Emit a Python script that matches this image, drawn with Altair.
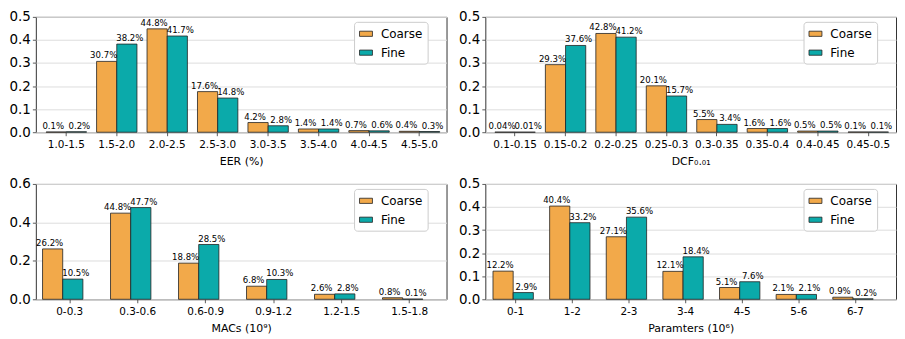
import altair as alt
import pandas as pd

groups = ["Coarse", "Fine"]
colors = ["#F2A94A", "#0BAAAA"]

eer_cats = ["1.0-1.5", "1.5-2.0", "2.0-2.5", "2.5-3.0", "3.0-3.5", "3.5-4.0", "4.0-4.5", "4.5-5.0"]
eer_coarse = [0.1, 30.7, 44.8, 17.6, 4.2, 1.4, 0.7, 0.4]
eer_fine = [0.2, 38.2, 41.7, 14.8, 2.8, 1.4, 0.6, 0.3]

dcf_cats = ["0.1-0.15", "0.15-0.2", "0.2-0.25", "0.25-0.3", "0.3-0.35", "0.35-0.4", "0.4-0.45", "0.45-0.5"]
dcf_coarse = [0.04, 29.3, 42.8, 20.1, 5.5, 1.6, 0.5, 0.1]
dcf_fine = [0.01, 37.6, 41.2, 15.7, 3.4, 1.6, 0.5, 0.1]

mac_cats = ["0-0.3", "0.3-0.6", "0.6-0.9", "0.9-1.2", "1.2-1.5", "1.5-1.8"]
mac_coarse = [26.2, 44.8, 18.8, 6.8, 2.6, 0.8]
mac_fine = [10.5, 47.7, 28.5, 10.3, 2.8, 0.1]

par_cats = ["0-1", "1-2", "2-3", "3-4", "4-5", "5-6", "6-7"]
par_coarse = [12.2, 40.4, 27.1, 12.1, 5.1, 2.1, 0.9]
par_fine = [2.9, 33.2, 35.6, 18.4, 7.6, 2.1, 0.2]

W, H = 413, 116
FONT = "DejaVu Sans"


def panel(cats, coarse, fine, title, ymax, tickvals, pad_outer, align):
    rows = []
    for c, a, b in zip(cats, coarse, fine):
        rows.append({"cat": c, "group": "Coarse", "pct": a})
        rows.append({"cat": c, "group": "Fine", "pct": b})
    df = pd.DataFrame(rows)
    df["value"] = df["pct"] / 100
    df["label"] = df["pct"].map(lambda v: f"{v}%")

    base = alt.Chart(df).encode(
        x=alt.X(
            "cat:N",
            sort=cats,
            scale=alt.Scale(paddingInner=0.2, paddingOuter=pad_outer, align=align),
            axis=alt.Axis(title=title, labelAngle=0, grid=False, labelFontSize=10.5,
                          titleFontSize=11, titlePadding=6, labelPadding=3.5),
        ),
        xOffset=alt.XOffset("group:N", sort=groups,
                            scale=alt.Scale(domain=groups, paddingInner=0, paddingOuter=0)),
        y=alt.Y(
            "value:Q",
            scale=alt.Scale(domain=[0, ymax], nice=False, zero=True),
            axis=alt.Axis(title=None, values=tickvals, format=".1f", grid=True,
                          labelFontSize=13.5, labelPadding=2),
        ),
    )
    bars = base.mark_bar(stroke="#222222", strokeWidth=0.8).encode(
        color=alt.Color(
            "group:N",
            scale=alt.Scale(domain=groups, range=colors),
            legend=alt.Legend(
                title=None,
                orient="none",
                legendX=W - 9 - 84,
                legendY=5,
                symbolType="M-1,-0.4H1V0.4H-1Z",
                symbolSize=169,
                symbolStrokeColor="#222222",
                symbolStrokeWidth=0.8,
                symbolOpacity=1,
                labelFontSize=12,
                labelFont=FONT,
                labelColor="#000000",
                labelOffset=8,
                rowPadding=6,
                padding=5,
                strokeColor="#cccccc",
                fillColor="#ffffff",
                cornerRadius=3,
            ),
        )
    )
    t1 = base.mark_text(baseline="bottom", dy=-1, dx=-3, fontSize=8.6, font=FONT, color="#000000").encode(
        text="label:N"
    ).transform_filter(alt.datum.group == "Coarse")
    t2 = base.mark_text(baseline="bottom", dy=-1, dx=3, fontSize=8.6, font=FONT, color="#000000").encode(
        text="label:N"
    ).transform_filter(alt.datum.group == "Fine")
    return alt.layer(bars, t1, t2).properties(width=W, height=H)


p1 = panel(eer_cats, eer_coarse, eer_fine, "EER (%)", 0.5, [0, 0.1, 0.2, 0.3, 0.4, 0.5], 0.17, 0.6)
p2 = panel(dcf_cats, dcf_coarse, dcf_fine, "DCF₀.₀₁", 0.5, [0, 0.1, 0.2, 0.3, 0.4, 0.5], 0.17, 0.56)
p3 = panel(mac_cats, mac_coarse, mac_fine, "MACs (10⁹)", 0.6, [0, 0.2, 0.4, 0.6], 0.12, 0.41)
p4 = panel(par_cats, par_coarse, par_fine, "Paramters (10⁶)", 0.5, [0, 0.1, 0.2, 0.3, 0.4, 0.5], 0.226, 0.3)

top = alt.hconcat(p1, p2, spacing=10).resolve_legend(color="independent").resolve_scale(color="independent")
bot = alt.hconcat(p3, p4, spacing=10).resolve_legend(color="independent").resolve_scale(color="independent")

chart = (
    alt.vconcat(top, bot, spacing=9)
    .resolve_legend(color="independent")
    .resolve_scale(color="independent")
    .properties(padding=0)
    .configure(font=FONT)
    .configure_view(stroke="#333333", strokeWidth=1)
    .configure_axis(
        domain=False,
        tickColor="#333333",
        tickSize=3.5,
        tickWidth=0.8,
        labelColor="#000000",
        titleColor="#000000",
        titleFontWeight="normal",
        labelFont=FONT,
        titleFont=FONT,
        gridColor="#dddddd",
        gridWidth=1,
    )
)

chart.save("out.html", embed_options={"renderer": "svg", "actions": False})
